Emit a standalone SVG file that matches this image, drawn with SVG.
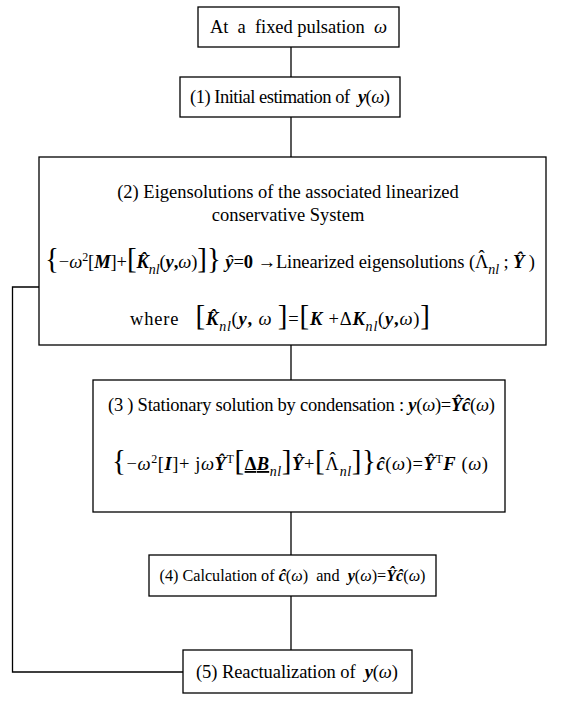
<svg xmlns="http://www.w3.org/2000/svg" width="567" height="703" viewBox="0 0 567 703">
<style>
.box{fill:#fff;stroke:#000;stroke-width:1.3}
.ln{fill:none;stroke:#000;stroke-width:1.3}
.t{font-family:"Liberation Serif","Times New Roman","DejaVu Serif",serif;font-size:18.5px;fill:#000;white-space:pre}
.t4{font-size:16.2px}
.i{font-style:italic}
.bi{font-style:italic;font-weight:bold}
.b{font-weight:bold}
.s{font-size:14px;font-style:italic}
.p{font-size:12px}
.big{font-size:29px}
</style>
<rect width="567" height="703" fill="#fff"/>
<g id="connectors">
<line class="ln" x1="291" y1="47" x2="291" y2="77"/>
<line class="ln" x1="291" y1="117" x2="291" y2="157"/>
<line class="ln" x1="291" y1="345" x2="291" y2="380"/>
<line class="ln" x1="291" y1="512" x2="291" y2="555"/>
<line class="ln" x1="291" y1="596" x2="291" y2="650"/>
<polyline class="ln" points="183,672 12.5,672 12.5,287 39,287"/>
</g>
<g id="n0">
<rect class="box" x="198" y="7" width="201" height="40"/>
<text class="t" x="210" y="33" textLength="177" lengthAdjust="spacing">At  a  fixed pulsation  <tspan class="i">ω</tspan></text>
</g>
<g id="n1">
<rect class="box" x="180" y="77" width="220" height="40"/>
<text class="t" x="190" y="103" textLength="200" lengthAdjust="spacing">(1) Initial estimation of  <tspan class="bi">y</tspan>(<tspan class="i">ω</tspan>)</text>
</g>
<g id="n2">
<rect class="box" x="39" y="157" width="507" height="188"/>
<text class="t" x="288" y="198" text-anchor="middle">(2) Eigensolutions of the associated linearized</text>
<text class="t" x="288" y="221" text-anchor="middle">conservative System</text>
<text class="t" x="45" y="268" textLength="490" lengthAdjust="spacing"><tspan class="big">{</tspan>−<tspan class="i">ω</tspan><tspan class="p" dy="-7">2</tspan><tspan dy="7">[</tspan><tspan class="bi">M</tspan>]+<tspan class="big">[</tspan><tspan class="bi">K̂</tspan><tspan class="s" dy="6">nl</tspan><tspan dy="-6">(</tspan><tspan class="bi">y</tspan><tspan class="b">,</tspan><tspan class="i">ω</tspan>)<tspan class="big">]}</tspan> <tspan class="bi">ŷ</tspan>=<tspan class="b">0</tspan> →Linearized eigensolutions (Λ<tspan dx="-9.8" dy="-5">ˆ</tspan><tspan class="s" dx="3.6" dy="11">nl</tspan><tspan dy="-6"> ; </tspan><tspan class="bi">Ŷ</tspan> )</text>
<text class="t" x="130" y="325" textLength="300" lengthAdjust="spacing">where   <tspan class="big">[</tspan><tspan class="bi">K̂</tspan><tspan class="s" dy="6">nl</tspan><tspan dy="-6">(</tspan><tspan class="bi">y</tspan><tspan class="b">,</tspan> <tspan class="i">ω</tspan> <tspan class="big">]</tspan>=<tspan class="big">[</tspan><tspan class="bi">K</tspan> +Δ<tspan class="bi">K</tspan><tspan class="s" dy="6">nl</tspan><tspan dy="-6">(</tspan><tspan class="bi">y</tspan><tspan class="b">,</tspan><tspan class="i">ω</tspan>)<tspan class="big">]</tspan></text>
</g>
<g id="n3">
<rect class="box" x="93" y="380" width="412" height="132"/>
<text class="t" x="108" y="411" textLength="387" lengthAdjust="spacing">(3 ) Stationary solution by condensation : <tspan class="bi">y</tspan>(<tspan class="i">ω</tspan>)=<tspan class="bi">Ŷĉ</tspan>(<tspan class="i">ω</tspan>)</text>
<text class="t" x="112" y="470" textLength="376" lengthAdjust="spacing"><tspan class="big">{</tspan>−<tspan class="i">ω</tspan><tspan class="p" dy="-7">2</tspan><tspan dy="7">[</tspan><tspan class="bi">I</tspan>]+ j<tspan class="i">ω</tspan><tspan class="bi">Ŷ</tspan><tspan class="p" dy="-7">T</tspan><tspan class="big" dy="7">[</tspan><tspan class="b" text-decoration="underline">Δ<tspan class="i">B</tspan></tspan><tspan class="s" dy="6">nl</tspan><tspan class="big" dy="-6">]</tspan><tspan class="bi">Ŷ</tspan>+<tspan class="big">[</tspan>Λ<tspan dx="-9.8" dy="-5">ˆ</tspan><tspan class="s" dx="3.6" dy="11">nl</tspan><tspan class="big" dy="-6">]}</tspan><tspan class="bi">ĉ</tspan>(<tspan class="i">ω</tspan>)=<tspan class="bi">Ŷ</tspan><tspan class="p" dy="-7">T</tspan><tspan class="bi" dy="7">F</tspan> (<tspan class="i">ω</tspan>)</text>
</g>
<g id="n4">
<rect class="box" x="149" y="555" width="287" height="41"/>
<text class="t t4" x="292.5" y="581" text-anchor="middle">(4) Calculation of <tspan class="bi">ĉ</tspan>(<tspan class="i">ω</tspan>)  and  <tspan class="bi">y</tspan>(<tspan class="i">ω</tspan>)=<tspan class="bi">Ŷĉ</tspan>(<tspan class="i">ω</tspan>)</text>
</g>
<g id="n5">
<rect class="box" x="183" y="650" width="229" height="43"/>
<text class="t" x="196" y="678" textLength="202" lengthAdjust="spacing">(5) Reactualization of  <tspan class="bi">y</tspan>(<tspan class="i">ω</tspan>)</text>
</g>
</svg>
